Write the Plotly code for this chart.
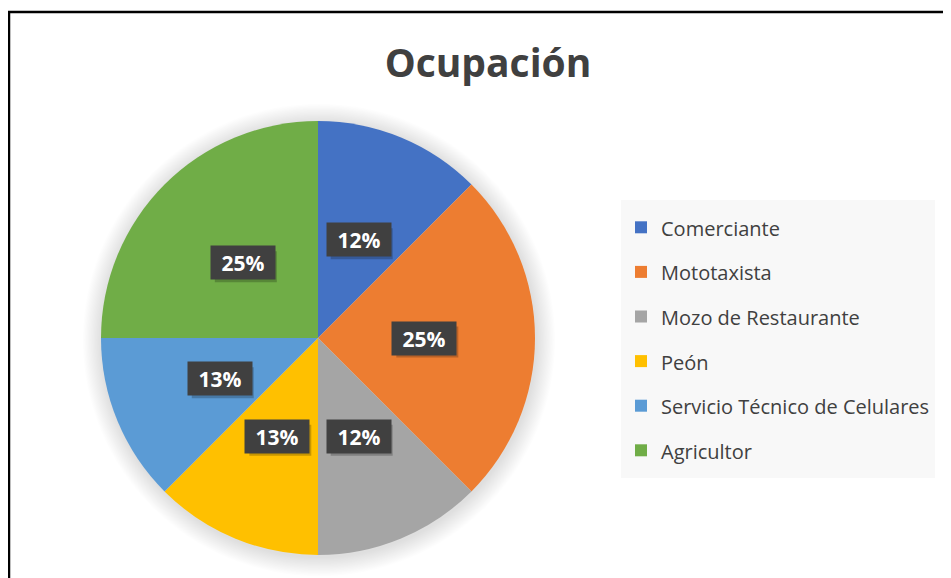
import math
import plotly.graph_objects as go

categories = ["Comerciante", "Mototaxista", "Mozo de Restaurante", "Peón",
              "Servicio Técnico de Celulares", "Agricultor"]
counts = [1, 2, 1, 1, 1, 2]
pct_labels = ["12%", "25%", "12%", "13%", "13%", "25%"]
colors = ["#4472C4", "#ED7D31", "#A5A5A5", "#FFC000", "#5B9BD5", "#70AD47"]

# the page body adds an 8px margin, so the figure is 8px smaller than the window
OFF = 8
W, H = 951 - OFF, 578 - OFF


def px(x):
    return (x - OFF) / W


def py(y):
    return 1 - (y - OFF) / H


# pie geometry (window pixels)
cx, cy, R = 318, 338, 217
dom_x = [px(cx - R), px(cx + R)]
dom_y = [py(cy + R), py(cy - R)]

fig = go.Figure()
fig.add_trace(go.Pie(
    labels=[f"<span style='font-size:20px;baseline-shift:4px'>{c}</span>" for c in categories],
    values=counts,
    sort=False,
    direction="clockwise",
    rotation=0,
    marker=dict(colors=colors, line=dict(width=0)),
    textinfo="none",
    hoverinfo="label+percent",
    domain=dict(x=dom_x, y=dom_y),
))

# soft shadow around the pie
shapes = []
for i in range(16, 0, -1):
    r = R + i * 1.2
    shapes.append(dict(type="circle", xref="paper", yref="paper", layer="below",
                       x0=px(cx + 1 - r), x1=px(cx + 1 + r),
                       y0=py(cy + 2 + r), y1=py(cy + 2 - r),
                       fillcolor="rgba(0,0,0,0.009)", line=dict(width=0)))
# chart border
shapes.append(dict(type="rect", xref="paper", yref="paper",
                   x0=px(9), x1=1.05, y0=-0.05, y1=py(12),
                   line=dict(color="black", width=2.5), fillcolor="rgba(0,0,0,0)"))

# data labels placed at the middle angle of each slice
total = sum(counts)
annotations = []
cum = 0
BW, BH = 62, 31
for v, lab in zip(counts, pct_labels):
    mid = (cum + v / 2) / total * 2 * math.pi
    cum += v
    rl = 0.49 * R
    lx = cx + rl * math.sin(mid)
    ly = cy - rl * math.cos(mid)
    # label box shadow
    shapes.append(dict(type="rect", xref="paper", yref="paper", layer="above",
                       xsizemode="pixel", ysizemode="pixel",
                       xanchor=px(lx), yanchor=py(ly),
                       x0=-BW / 2 + 3, x1=BW / 2 + 3, y0=-BH / 2 - 4, y1=BH / 2 - 4,
                       fillcolor="rgba(0,0,0,0.22)", line=dict(width=0)))
    annotations.append(dict(x=px(lx), y=py(ly), xref="paper", yref="paper", showarrow=False,
                            xanchor="center", yanchor="middle",
                            text=f"<b>{lab}</b>", width=BW, height=BH,
                            font=dict(family="Open Sans", size=21, color="white"),
                            bgcolor="#404040"))

fig.update_layout(
    width=W, height=H,
    margin=dict(l=0, r=0, t=0, b=0),
    paper_bgcolor="white",
    title=dict(text="<b>Ocupación</b>", x=px(488), xanchor="center",
               y=py(63), yanchor="middle",
               font=dict(family="Open Sans", size=39, color="#404040")),
    legend=dict(x=px(621), xanchor="left", y=py(200), yanchor="top",
                bgcolor="#F8F8F8", font=dict(family="Open Sans", size=32, color="#404040"),
                itemclick=False),
    shapes=shapes,
    annotations=annotations,
)

fig.write_html("out.html")
